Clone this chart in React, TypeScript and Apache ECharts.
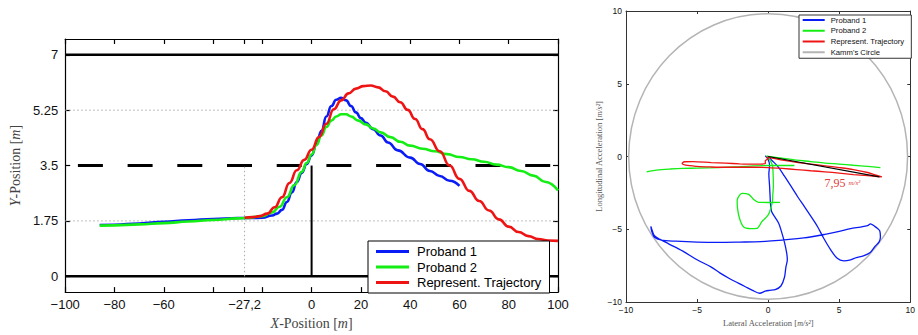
import React, { useEffect, useRef } from "react";
import * as echarts from "echarts";

// ---------- Left chart: lane change trajectories (X/Y position in m) ----------
const posXTicks = [-100, -80, -60, -40, -27.2, -20, 0, 20, 40, 60, 80, 100];
const posXLabels = [-100, -80, -60, -27.2, 0, 20, 40, 60, 80, 100];
const posYTicks = [0, 1.75, 3.5, 5.25, 7];

const laneBoundaryLow: number[][] = [[-100, 0], [100, 0]];
const laneBoundaryHigh: number[][] = [[-100, 7], [100, 7]];
const laneCenter: number[][] = [[-100, 3.5], [100, 3.5]];
const dotGridLow: number[][] = [[-100, 1.75], [100, 1.75]];
const dotGridHigh: number[][] = [[-100, 5.25], [100, 5.25]];
const startMarker: number[][] = [[-27.2, 0], [-27.2, 3.5]];
const zeroMarker: number[][] = [[0, 0], [0, 3.5]];

const posProband1: number[][] = [
  [-86, 1.62], [-80, 1.63], [-70, 1.67], [-60, 1.72], [-50, 1.77], [-40, 1.81], [-30, 1.84],
  [-25, 1.84], [-20, 1.85], [-16, 1.92], [-14, 1.98], [-12, 2.1], [-10, 2.35], [-8, 2.65],
  [-6, 2.98], [-4, 3.27], [-2, 3.55], [0, 3.82], [2, 4.18], [4, 4.6], [6, 5.05], [8, 5.38],
  [10, 5.58], [12, 5.64], [14, 5.56], [16, 5.38], [18, 5.18], [20, 5.0], [22, 4.85], [25, 4.65],
  [28, 4.45], [31, 4.23], [35, 3.98], [40, 3.75], [44, 3.55], [48, 3.33], [52, 3.17], [56, 3.02],
  [60, 2.86],
];
const posProband2: number[][] = [
  [-86, 1.6], [-80, 1.61], [-70, 1.64], [-60, 1.68], [-50, 1.73], [-40, 1.78], [-30, 1.83],
  [-27, 1.84], [-20, 1.9], [-16, 2.02], [-13, 2.2], [-10, 2.5], [-7, 2.88], [-4, 3.3], [-2, 3.58],
  [0, 3.85], [2, 4.15], [4, 4.45], [6, 4.72], [8, 4.92], [10, 5.05], [12, 5.12], [14, 5.12],
  [16, 5.05], [19, 4.92], [22, 4.8], [25, 4.67], [28, 4.55], [32, 4.4], [36, 4.25], [40, 4.13],
  [45, 4.03], [50, 3.95], [55, 3.86], [60, 3.77], [65, 3.7], [70, 3.62], [75, 3.53], [80, 3.45],
  [85, 3.33], [90, 3.18], [95, 2.98], [100, 2.71],
];
const posRepresent: number[][] = [
  [-27.2, 1.85], [-24, 1.87], [-21, 1.9], [-18, 1.98], [-15, 2.18], [-12, 2.5], [-9, 2.95],
  [-6, 3.35], [-3, 3.68], [0, 4.0], [3, 4.4], [6, 4.82], [9, 5.28], [12, 5.56], [15, 5.78],
  [18, 5.93], [21, 6.01], [24, 6.03], [27, 5.97], [30, 5.85], [33, 5.68], [36, 5.5], [39, 5.26],
  [42, 4.97], [45, 4.65], [48, 4.33], [52, 3.95], [56, 3.5], [60, 3.08], [64, 2.7], [68, 2.38],
  [72, 2.08], [76, 1.8], [80, 1.57], [84, 1.4], [88, 1.27], [92, 1.18], [96, 1.13], [100, 1.12],
];

// ---------- Right chart: g-g diagram (lateral / longitudinal acceleration) ----------
const accTicks = [-10, -5, 0, 5, 10];
const kammCircle: number[][] = [[0, 0, 9.81]];
const arrowStart = [0, 0];
const arrowEnd = [7.83, -1.4];
const arrowLabel = "7,95";

const accProband1: number[][] = [
  [-0.2, 0.05], [0.0, -0.2], [0.1, -0.6], [0.05, -1.2], [0.1, -2.0], [0.15, -3.0], [0.18, -3.4],
  [0.25, -3.8], [0.5, -4.2], [0.75, -4.6], [0.95, -5.2], [1.15, -5.9], [1.3, -6.6], [1.35, -7.1],
  [1.25, -7.6], [1.15, -8.3], [0.9, -8.9], [0.5, -9.15], [0.1, -9.2], [-0.2, -9.25], [-0.6, -9.4],
  [-1.1, -9.2], [-1.6, -8.95], [-2.1, -8.7], [-2.7, -8.4], [-3.4, -8.0], [-4.0, -7.6], [-5.0, -7.1],
  [-6.0, -6.5], [-7.0, -6.0], [-7.6, -5.7], [-8.0, -5.45], [-8.15, -5.1], [-8.25, -4.8],
  [-8.2, -5.1], [-8.0, -5.55], [-7.5, -5.75], [-6.5, -5.82], [-5.0, -5.88], [-3.5, -5.9],
  [-2.0, -5.88], [-0.5, -5.85], [1.0, -5.75], [2.5, -5.6], [4.0, -5.35], [5.0, -5.15],
  [5.8, -4.95], [6.5, -4.85], [7.0, -4.75], [7.2, -4.63], [7.5, -4.8], [7.7, -4.95], [7.85, -5.1],
  [7.9, -5.5], [7.82, -5.85], [7.5, -6.2], [7.18, -6.6], [6.7, -6.83], [6.2, -6.95], [5.8, -7.1],
  [5.32, -7.17], [4.86, -7.0], [4.4, -6.41], [3.9, -5.6], [3.47, -4.81], [3.0, -4.1],
  [2.55, -3.44], [2.1, -2.8], [1.62, -2.06], [1.15, -1.35], [0.69, -0.69], [0.23, -0.23],
  [0.05, 0.0],
];
const accProband2a: number[][] = [
  [-8.55, -1.05], [-8.3, -1.0], [-7.5, -0.9], [-6.9, -0.86], [-6, -0.82], [-5, -0.8],
  [-3.5, -0.76], [-2, -0.7], [-1, -0.65], [0, -0.62], [1, -0.62], [1.85, -0.62],
];
const accProband2b: number[][] = [
  [7.9, -0.76], [7, -0.68], [6, -0.6], [5, -0.52], [4, -0.46], [3, -0.35], [2, -0.25], [1, -0.12],
  [0.3, -0.02], [-0.1, 0.03], [0.1, -0.2], [0.3, -0.6], [0.35, -1.2], [0.37, -2.0], [0.33, -2.6],
  [0.3, -3.1], [0.2, -3.5], [0.02, -4.0], [-0.44, -4.48], [-0.79, -4.94], [-1.25, -4.96],
  [-1.72, -4.85], [-2.0, -4.3], [-2.15, -3.6], [-2.18, -3.0], [-2.0, -2.65], [-1.83, -2.53],
  [-1.37, -2.6], [-1.02, -2.95], [-0.67, -3.15], [0.0, -3.16], [0.83, -3.15],
];
const accRepresent: number[][] = [
  [-0.1, -0.05], [1, -0.25], [2, -0.4], [3, -0.52], [4, -0.64], [5, -0.76], [6, -0.9], [7, -1.1],
  [7.6, -1.28], [8.0, -1.4], [7.7, -1.38], [7, -1.32], [6, -1.24], [5, -1.14], [4, -1.05],
  [3, -0.98], [2, -0.9], [1, -0.82], [0, -0.76], [-1, -0.74], [-2, -0.74], [-3, -0.74],
  [-4, -0.72], [-5, -0.68], [-5.8, -0.6], [-6.05, -0.47], [-5.9, -0.36], [-5.3, -0.35],
  [-4, -0.42], [-3, -0.46], [-2, -0.5], [-1, -0.52], [-0.2, -0.5], [-0.2, -0.3], [0, -0.15],
  [-0.1, -0.05],
];

const BLUE = "#0a1cf5";
const GREEN = "#14ee14";
const RED = "#ee1414";
const GRAY = "#b4b4b4";
const SANS = "Liberation Sans";
const SERIF = "Liberation Serif";

const minus = (v: number) => (v < 0 ? "\u2212" + String(-v) : String(v));

function xAx(grid: number, pos: string, min: number, max: number, ticks: number[], labels: number[] | null, tickLen: number, lineColor: string, lineW: number, fontSize: number, extra: any = {}) {
  return {
    type: "value", gridIndex: grid, position: pos, min, max,
    axisLine: { show: true, onZero: false, lineStyle: { color: lineColor, width: lineW } },
    axisTick: { show: true, inside: true, length: tickLen, customValues: ticks, lineStyle: { color: lineColor, width: lineW } },
    axisLabel: labels
      ? { show: true, customValues: labels, fontFamily: SANS, fontSize, color: "#111", margin: extra.margin ?? 6,
          formatter: (v: number) => (Math.abs(v + 27.2) < 1e-6 ? "\u221227,2" : minus(v)) }
      : { show: false },
    splitLine: { show: false },
    ...extra.rest,
  };
}

function lineSeries(name: string, data: number[][], xi: number, yi: number, color: string, width: number, style: any = {}, smooth: boolean | number = false, mono?: string) {
  return {
    type: "line", name, data, xAxisIndex: xi, yAxisIndex: yi, showSymbol: false, symbol: "none",
    smooth, smoothMonotone: mono, color, silent: true,
    lineStyle: { color, width, ...style },
    z: style.z ?? 2,
  };
}

export default function App() {
  const ref = useRef<HTMLDivElement>(null);
  useEffect(() => {
    if (!ref.current) return;
    const chart = echarts.init(ref.current, null, { renderer: "svg" });
    const option: any = {
      animation: false,
      grid: [
        { left: 62, top: 39, width: 496, height: 260 },
        { left: 626, top: 11, width: 288, height: 291 },
      ],
      xAxis: [
        xAx(0, "bottom", -100, 100, posXTicks, posXLabels, 5, "#000", 1.2, 13, {
          margin: 6,
          rest: {
            name: "{i|X}-Position [{i|m}]", nameLocation: "middle", nameGap: 20,
            nameTextStyle: { fontFamily: SERIF, fontSize: 14, color: "#444", rich: { i: { fontFamily: SERIF, fontSize: 14, fontStyle: "italic", color: "#444" } } },
          },
        }),
        xAx(0, "top", -100, 100, posXTicks, null, 5, "#000", 1.2, 13),
        xAx(1, "bottom", -10, 10, accTicks, accTicks, 3, "#333", 1, 8.5, {
          margin: 3,
          rest: {
            name: "Lateral Acceleration [{i|m/s²}]", nameLocation: "middle", nameGap: 14,
            nameTextStyle: { fontFamily: SERIF, fontSize: 8.5, color: "#555", rich: { i: { fontFamily: SERIF, fontSize: 8, fontStyle: "italic", color: "#555" } } },
          },
        }),
        xAx(1, "top", -10, 10, accTicks, null, 3, "#333", 1, 8.5),
      ],
      yAxis: [
        {
          type: "value", gridIndex: 0, position: "left", min: -0.5, max: 7.5,
          axisLine: { show: true, onZero: false, lineStyle: { color: "#000", width: 1.2 } },
          axisTick: { show: true, inside: true, length: 5, customValues: posYTicks, lineStyle: { color: "#000", width: 1.2 } },
          axisLabel: { show: true, customValues: posYTicks, fontFamily: SANS, fontSize: 13, color: "#111", margin: 7, formatter: (v: number) => minus(v) },
          splitLine: { show: false },
          name: "{i|Y}-Position [{i|m}]", nameLocation: "middle", nameGap: 38,
          nameTextStyle: { fontFamily: SERIF, fontSize: 14, color: "#444", rich: { i: { fontFamily: SERIF, fontSize: 14, fontStyle: "italic", color: "#444" } } },
        },
        {
          type: "value", gridIndex: 0, position: "right", min: -0.5, max: 7.5,
          axisLine: { show: true, onZero: false, lineStyle: { color: "#000", width: 1.2 } },
          axisTick: { show: true, inside: true, length: 5, customValues: posYTicks, lineStyle: { color: "#000", width: 1.2 } },
          axisLabel: { show: false }, splitLine: { show: false },
        },
        {
          type: "value", gridIndex: 1, position: "left", min: -10, max: 10,
          axisLine: { show: true, onZero: false, lineStyle: { color: "#333", width: 1 } },
          axisTick: { show: true, inside: true, length: 3, customValues: accTicks, lineStyle: { color: "#333" } },
          axisLabel: { show: true, customValues: accTicks, fontFamily: SANS, fontSize: 8.5, color: "#111", margin: 4, formatter: (v: number) => minus(v) },
          splitLine: { show: false },
          name: "Longitudinal Acceleration [{i|m/s²}]", nameLocation: "middle", nameGap: 21,
          nameTextStyle: { fontFamily: SERIF, fontSize: 8.5, color: "#555", rich: { i: { fontFamily: SERIF, fontSize: 8, fontStyle: "italic", color: "#555" } } },
        },
        {
          type: "value", gridIndex: 1, position: "right", min: -10, max: 10,
          axisLine: { show: true, onZero: false, lineStyle: { color: "#333", width: 1 } },
          axisTick: { show: true, inside: true, length: 3, customValues: accTicks, lineStyle: { color: "#333" } },
          axisLabel: { show: false }, splitLine: { show: false },
        },
      ],
      legend: [
        {
          orient: "vertical", left: 368, top: 241, icon: "rect", itemWidth: 33, itemHeight: 3, itemGap: 0.5,
          padding: [3, 8, 3, 8], borderColor: "#000", borderWidth: 1, backgroundColor: "#fff", selectedMode: false,
          textStyle: { fontFamily: SANS, fontSize: 13, color: "#000", lineHeight: 15, padding: [0, 0, 0, 3] },
          data: ["Proband 1", "Proband 2", "Represent. Trajectory"],
        },
        {
          orient: "vertical", left: 799, top: 15, icon: "rect", itemWidth: 22, itemHeight: 2, itemGap: 0.75,
          padding: [0, 7, 1, 3.7], borderColor: "#333", borderWidth: 1, backgroundColor: "#fff", selectedMode: false,
          textStyle: { fontFamily: SANS, fontSize: 7.7, color: "#111", lineHeight: 10, padding: [0, 0, 0, 1] },
          data: ["Proband 1", "Proband 2", "Represent. Trajectory", "Kamm's Circle"],
        },
      ],
      series: [
        // left chart: lane markings
        lineSeries("laneLow", laneBoundaryLow, 0, 0, "#000", 2.5),
        lineSeries("laneHigh", laneBoundaryHigh, 0, 0, "#000", 2.5),
        lineSeries("laneCenter", laneCenter, 0, 0, "#000", 3, { type: [25, 24.7], dashOffset: 36.7 }),
        lineSeries("dotLow", dotGridLow, 0, 0, "#aaa", 1, { type: [1.5, 2.5] }),
        lineSeries("dotHigh", dotGridHigh, 0, 0, "#aaa", 1, { type: [1.5, 2.5] }),
        lineSeries("startMarker", startMarker, 0, 0, "#aaa", 1, { type: [1.5, 2.5] }),
        lineSeries("zeroMarker", zeroMarker, 0, 0, "#000", 2),
        // left chart: trajectories
        lineSeries("Proband 1", posProband1, 0, 0, BLUE, 2.6, { z: 3 }, 0.5, "x"),
        lineSeries("Proband 2", posProband2, 0, 0, GREEN, 2.6, { z: 3 }, 0.5, "x"),
        lineSeries("Represent. Trajectory", posRepresent, 0, 0, RED, 2.6, { z: 3 }, 0.5, "x"),
        // right chart: Kamm's circle
        {
          type: "custom", name: "Kamm's Circle", xAxisIndex: 2, yAxisIndex: 2, data: kammCircle,
          encode: { x: 0, y: 1 }, itemStyle: { color: GRAY }, color: GRAY, silent: true, z: 1,
          renderItem: (_p: any, api: any) => {
            const c = api.coord([api.value(0), api.value(1)]);
            const s = api.size([api.value(2), api.value(2)]);
            return {
              type: "ellipse",
              shape: { cx: c[0], cy: c[1], rx: s[0], ry: s[1] },
              style: { fill: "none", stroke: GRAY, lineWidth: 1.5 },
            };
          },
        },
        // right chart: acceleration traces
        lineSeries("Proband 1", accProband1, 2, 2, BLUE, 1.3, {}, 0.3),
        lineSeries("Proband 2", accProband2a, 2, 2, GREEN, 1.3, {}, 0.3),
        lineSeries("Proband 2", accProband2b, 2, 2, GREEN, 1.3, {}, 0.3),
        lineSeries("Represent. Trajectory", accRepresent, 2, 2, RED, 1.3, {}, 0.3),
        {
          type: "line", name: "arrow", xAxisIndex: 2, yAxisIndex: 2, data: [arrowStart], showSymbol: false,
          symbol: "none", silent: true, z: 5,
          markLine: {
            silent: true, symbol: ["none", "arrow"], symbolSize: [0, 7], animation: false,
            lineStyle: { color: "#000", type: "solid", width: 1.2 },
            label: { show: false },
            data: [[{ coord: arrowStart }, { coord: arrowEnd }]],
          },
          markPoint: {
            silent: true, symbol: "circle", symbolSize: 0, animation: false,
            data: [{
              coord: arrowEnd,
              label: {
                show: true, offset: [-37, 6], color: "#e03a3a", fontFamily: SERIF, fontSize: 12,
                formatter: arrowLabel + " {f|m/s²}",
                rich: { f: { fontFamily: SERIF, fontSize: 7, fontStyle: "italic", color: "#e03a3a" } },
              },
            }],
          },
        },
      ],
    };
    chart.setOption(option);
    return () => chart.dispose();
  }, []);
  return <div ref={ref} style={{ position: "fixed", left: 0, top: 0, width: 918, height: 335, background: "#fff" }} />;
}
